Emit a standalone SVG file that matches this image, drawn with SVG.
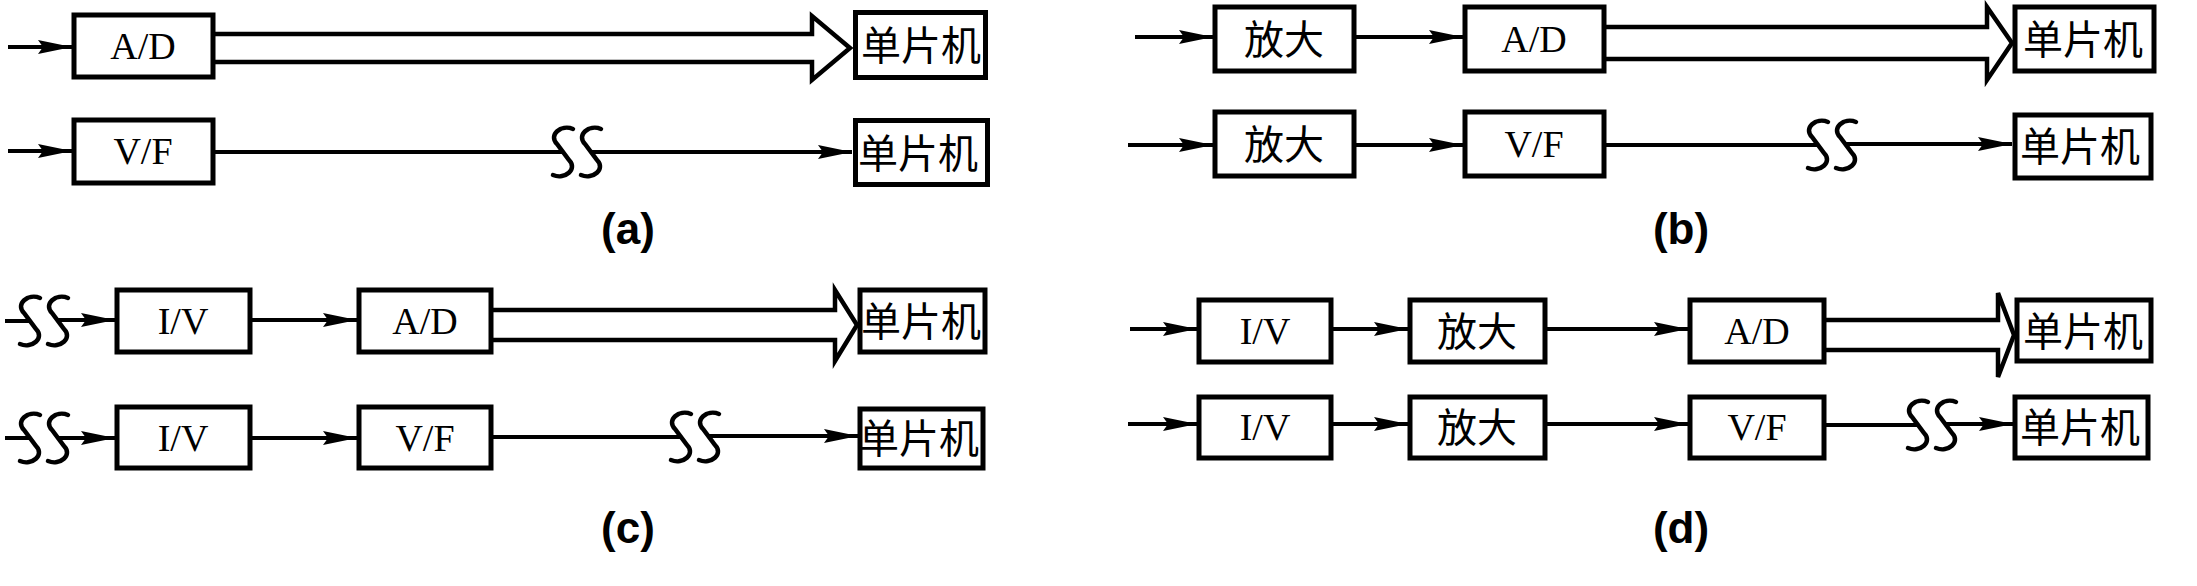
<svg xmlns="http://www.w3.org/2000/svg" xmlns:xlink="http://www.w3.org/1999/xlink" width="2197" height="586" viewBox="0 0 2197 586">
<style>
.box{fill:#fff;stroke:#000;stroke-width:5}
.ln{fill:none;stroke:#000;stroke-width:4}
.arr{fill:none;stroke:#000;stroke-width:4;marker-end:url(#ah)}
.dbl{fill:none;stroke:#000;stroke-width:4.5;stroke-linejoin:miter}
.brk{fill:none;stroke:#000;stroke-width:4.5;stroke-linecap:round}
.en{font-family:"Liberation Serif",serif;font-size:38px;text-anchor:middle}
.cn{font-family:"Noto Sans CJK SC",sans-serif;font-size:40px;text-anchor:middle}
.cap{font-family:"Liberation Sans",Arial,sans-serif;font-weight:bold;font-size:44px;text-anchor:middle}
</style>
<defs>
<marker id="ah" markerUnits="userSpaceOnUse" markerWidth="40" markerHeight="20" viewBox="0 0 40 16" refX="34" refY="8" orient="auto">
<path d="M0,1 L34,8 L0,15 L5,8 Z" fill="#000"/>
</marker>
<path id="S" d="M10,-23 C-2,-28 -15,-17 -6,-8 L6,8 C15,17 2,28 -10,23"/>
</defs>
<rect width="2197" height="586" fill="#fff"/>

<g id="connectors">
<!-- (a) -->
<line class="arr" x1="8" y1="47" x2="72" y2="47"/>
<polyline class="dbl" points="215,34 812,34 812,16 850,48 812,80 812,62 215,62"/>
<line class="arr" x1="8" y1="151" x2="72" y2="151"/>
<line class="ln" x1="215" y1="152" x2="563" y2="152"/>
<line class="arr" x1="591" y1="152" x2="852" y2="152"/>
<use href="#S" xlink:href="#S" class="brk" x="563" y="152"/>
<use href="#S" xlink:href="#S" class="brk" x="591" y="152"/>
<!-- (b) -->
<line class="arr" x1="1135" y1="37" x2="1213" y2="37"/>
<line class="arr" x1="1356" y1="37" x2="1463" y2="37"/>
<polyline class="dbl" points="1606,27 1987,27 1987,7 2012,43 1987,80 1987,59 1606,59"/>
<line class="arr" x1="1128" y1="145" x2="1213" y2="145"/>
<line class="arr" x1="1356" y1="145" x2="1463" y2="145"/>
<line class="ln" x1="1606" y1="145" x2="1818" y2="145"/>
<line class="arr" x1="1846" y1="144" x2="2012" y2="144"/>
<use href="#S" xlink:href="#S" class="brk" x="1818" y="145"/>
<use href="#S" xlink:href="#S" class="brk" x="1846" y="145"/>
<!-- (c) -->
<line class="ln" x1="5" y1="321" x2="30" y2="321"/>
<line class="arr" x1="58" y1="320" x2="115" y2="320"/>
<use href="#S" xlink:href="#S" class="brk" x="30" y="321"/>
<use href="#S" xlink:href="#S" class="brk" x="58" y="321"/>
<line class="arr" x1="252" y1="320" x2="357" y2="320"/>
<polyline class="dbl" points="493,310 835,310 835,290 857,325 835,361 835,340 493,340"/>
<line class="ln" x1="5" y1="438" x2="30" y2="438"/>
<line class="arr" x1="58" y1="438" x2="115" y2="438"/>
<use href="#S" xlink:href="#S" class="brk" x="30" y="438"/>
<use href="#S" xlink:href="#S" class="brk" x="58" y="438"/>
<line class="arr" x1="252" y1="438" x2="357" y2="438"/>
<line class="ln" x1="493" y1="437" x2="681" y2="437"/>
<line class="arr" x1="709" y1="436" x2="858" y2="436"/>
<use href="#S" xlink:href="#S" class="brk" x="681" y="437"/>
<use href="#S" xlink:href="#S" class="brk" x="709" y="437"/>
<!-- (d) -->
<line class="arr" x1="1130" y1="329" x2="1197" y2="329"/>
<line class="arr" x1="1333" y1="329" x2="1408" y2="329"/>
<line class="arr" x1="1547" y1="329" x2="1688" y2="329"/>
<polyline class="dbl" points="1826,320 1998,320 1998,293 2014,335 1998,377 1998,350 1826,350"/>
<line class="arr" x1="1128" y1="424" x2="1197" y2="424"/>
<line class="arr" x1="1333" y1="424" x2="1408" y2="424"/>
<line class="arr" x1="1547" y1="424" x2="1688" y2="424"/>
<line class="ln" x1="1826" y1="425" x2="1918" y2="425"/>
<line class="arr" x1="1946" y1="424" x2="2013" y2="424"/>
<use href="#S" xlink:href="#S" class="brk" x="1918" y="425"/>
<use href="#S" xlink:href="#S" class="brk" x="1946" y="425"/>
</g>

<!-- (a) nodes -->
<g id="a_ad1"><rect class="box" x="74" y="15" width="139" height="62"/><text class="en" x="143" y="59">A/D</text></g>
<g id="a_mcu1"><rect class="box" x="855.5" y="12.5" width="130" height="65"/><text class="cn" x="921" y="60">单片机</text></g>
<g id="a_vf"><rect class="box" x="74" y="120" width="139" height="63"/><text class="en" x="143" y="164">V/F</text></g>
<g id="a_mcu2"><rect class="box" x="855.5" y="120.5" width="132" height="64"/><text class="cn" x="918" y="168">单片机</text></g>
<g id="cap_a"><text class="cap" x="628" y="244">(a)</text></g>

<!-- (b) nodes -->
<g id="b_amp1"><rect class="box" x="1215" y="7" width="139" height="64"/><text class="cn" x="1284" y="54">放大</text></g>
<g id="b_ad"><rect class="box" x="1465" y="7" width="139" height="64"/><text class="en" x="1534" y="52">A/D</text></g>
<g id="b_mcu1"><rect class="box" x="2015" y="7" width="139" height="64"/><text class="cn" x="2083" y="54">单片机</text></g>
<g id="b_amp2"><rect class="box" x="1215" y="112" width="139" height="64"/><text class="cn" x="1284" y="159">放大</text></g>
<g id="b_vf"><rect class="box" x="1465" y="112" width="139" height="64"/><text class="en" x="1534" y="157">V/F</text></g>
<g id="b_mcu2"><rect class="box" x="2015" y="115" width="136" height="63"/><text class="cn" x="2080" y="161">单片机</text></g>
<g id="cap_b"><text class="cap" x="1681" y="244">(b)</text></g>

<!-- (c) nodes -->
<g id="c_iv1"><rect class="box" x="117" y="290" width="133" height="62"/><text class="en" x="183" y="334">I/V</text></g>
<g id="c_ad"><rect class="box" x="359" y="290" width="132" height="62"/><text class="en" x="425" y="334">A/D</text></g>
<g id="c_mcu1"><rect class="box" x="860" y="290" width="125" height="62"/><text class="cn" x="921" y="336">单片机</text></g>
<g id="c_iv2"><rect class="box" x="117" y="407" width="133" height="61"/><text class="en" x="183" y="451">I/V</text></g>
<g id="c_vf"><rect class="box" x="359" y="407" width="132" height="61"/><text class="en" x="425" y="451">V/F</text></g>
<g id="c_mcu2"><rect class="box" x="860" y="409" width="123" height="59"/><text class="cn" x="919" y="453">单片机</text></g>
<g id="cap_c"><text class="cap" x="628" y="543">(c)</text></g>

<!-- (d) nodes -->
<g id="d_iv1"><rect class="box" x="1199" y="300" width="132" height="62"/><text class="en" x="1265" y="344">I/V</text></g>
<g id="d_amp1"><rect class="box" x="1410" y="300" width="135" height="62"/><text class="cn" x="1477" y="346">放大</text></g>
<g id="d_ad"><rect class="box" x="1690" y="300" width="134" height="62"/><text class="en" x="1757" y="344">A/D</text></g>
<g id="d_mcu1"><rect class="box" x="2017" y="300" width="134" height="61"/><text class="cn" x="2083" y="346">单片机</text></g>
<g id="d_iv2"><rect class="box" x="1199" y="397" width="132" height="61"/><text class="en" x="1265" y="440">I/V</text></g>
<g id="d_amp2"><rect class="box" x="1410" y="397" width="135" height="61"/><text class="cn" x="1477" y="442">放大</text></g>
<g id="d_vf"><rect class="box" x="1690" y="397" width="134" height="61"/><text class="en" x="1757" y="440">V/F</text></g>
<g id="d_mcu2"><rect class="box" x="2015" y="397" width="133" height="61"/><text class="cn" x="2080" y="442">单片机</text></g>
<g id="cap_d"><text class="cap" x="1681" y="543">(d)</text></g>
</svg>
